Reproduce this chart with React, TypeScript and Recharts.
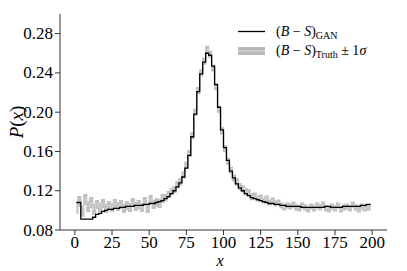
import React from 'react';
import { ComposedChart, Line, Area, XAxis, YAxis } from 'recharts';

// bin centres
const xBins = [
  1, 3, 5, 7, 9, 11, 13, 15, 17, 19, 21, 23, 25, 27, 29, 31, 33, 35, 37, 39,
  41, 43, 45, 47, 49, 51, 53, 55, 57, 59, 61, 63, 65, 67, 69, 71, 73, 75, 77, 79,
  81, 83, 85, 87, 89, 91, 93, 95, 97, 99, 101, 103, 105, 107, 109, 111, 113, 115, 117, 119,
  121, 123, 125, 127, 129, 131, 133, 135, 137, 139, 141, 143, 145, 147, 149, 151, 153, 155, 157, 159,
  161, 163, 165, 167, 169, 171, 173, 175, 177, 179, 181, 183, 185, 187, 189, 191, 193, 195, 197, 199,
];

// (B - S) truth
const truthVals = [
  0.102, 0.109, 0.099, 0.111, 0.104, 0.108, 0.101, 0.106, 0.103, 0.107,
  0.102, 0.105, 0.103, 0.107, 0.104, 0.106, 0.102, 0.105, 0.103, 0.108,
  0.104, 0.106, 0.103, 0.109, 0.102, 0.111, 0.106, 0.108, 0.107, 0.112,
  0.113, 0.116, 0.119, 0.121, 0.126, 0.129, 0.136, 0.146, 0.158, 0.176,
  0.200, 0.222, 0.240, 0.252, 0.264, 0.259, 0.245, 0.226, 0.203, 0.181,
  0.163, 0.150, 0.141, 0.133, 0.129, 0.124, 0.122, 0.119, 0.118, 0.114,
  0.115, 0.112, 0.113, 0.110, 0.112, 0.108, 0.110, 0.107, 0.108, 0.105,
  0.103, 0.105, 0.104, 0.106, 0.103, 0.102, 0.105, 0.103, 0.101, 0.104,
  0.102, 0.105, 0.103, 0.106, 0.102, 0.101, 0.104, 0.102, 0.105, 0.101,
  0.103, 0.104, 0.102, 0.106, 0.103, 0.101, 0.104, 0.102, 0.103, 0.103,
];

// 1 sigma uncertainty on truth
const truthSigma = [
  0.005, 0.005, 0.005, 0.005, 0.005, 0.005, 0.005, 0.004, 0.004, 0.004,
  0.004, 0.004, 0.004, 0.004, 0.004, 0.004, 0.004, 0.004, 0.004, 0.004,
  0.004, 0.004, 0.004, 0.004, 0.004, 0.004, 0.004, 0.004, 0.004, 0.004,
  0.003, 0.003, 0.003, 0.003, 0.003, 0.003, 0.003, 0.003, 0.003, 0.003,
  0.003, 0.003, 0.003, 0.003, 0.003, 0.003, 0.003, 0.003, 0.003, 0.003,
  0.003, 0.003, 0.003, 0.003, 0.003, 0.003, 0.003, 0.003, 0.003, 0.003,
  0.0025, 0.0025, 0.0025, 0.0025, 0.0025, 0.0025, 0.0025, 0.0025, 0.0025, 0.0025,
  0.0025, 0.0025, 0.0025, 0.0025, 0.0025, 0.0025, 0.0025, 0.0025, 0.0025, 0.0025,
  0.0025, 0.0025, 0.0025, 0.0025, 0.0025, 0.0025, 0.0025, 0.0025, 0.0025, 0.0025,
  0.0025, 0.0025, 0.0025, 0.0025, 0.0025, 0.0025, 0.0025, 0.0025, 0.0025, 0.0025,
];

// (B - S) GAN
const ganVals = [
  0.108, 0.108, 0.091, 0.091, 0.091, 0.091, 0.093, 0.096, 0.097, 0.099,
  0.100, 0.101, 0.101, 0.102, 0.102, 0.103, 0.103, 0.104, 0.104, 0.104,
  0.105, 0.105, 0.105, 0.106, 0.106, 0.107, 0.107, 0.108, 0.109, 0.110,
  0.112, 0.114, 0.117, 0.120, 0.124, 0.128, 0.134, 0.143, 0.156, 0.175,
  0.198, 0.221, 0.239, 0.251, 0.260, 0.258, 0.247, 0.228, 0.205, 0.182,
  0.164, 0.151, 0.140, 0.133, 0.127, 0.123, 0.120, 0.117, 0.115, 0.113,
  0.112, 0.111, 0.110, 0.109, 0.108, 0.107, 0.107, 0.106, 0.106, 0.105,
  0.105, 0.104, 0.104, 0.104, 0.104, 0.104, 0.103, 0.103, 0.103, 0.103,
  0.103, 0.103, 0.103, 0.103, 0.104, 0.104, 0.103, 0.103, 0.103, 0.103,
  0.104, 0.104, 0.104, 0.104, 0.104, 0.104, 0.105, 0.105, 0.106, 0.106,
];

const xTicks = [0, 25, 50, 75, 100, 125, 150, 175, 200];
const yTicks = [0.08, 0.12, 0.16, 0.2, 0.24, 0.28];

const data = xBins.map((x, i) => ({
  x,
  truth: truthVals[i],
  band: [truthVals[i] - truthSigma[i], truthVals[i] + truthSigma[i]],
  gan: ganVals[i],
}));

const FONT = 'Liberation Serif';
const AXIS = '#333';

const XTick = ({ x, y, payload }: any) => (
  <text x={x} y={y + 10} textAnchor="middle" fontFamily={FONT} fontSize={17} fill="#000">
    {payload.value}
  </text>
);

const YTick = ({ x, y, payload }: any) => (
  <text x={x} y={y + 5.5} textAnchor="end" fontFamily={FONT} fontSize={17} fill="#000">
    {payload.value.toFixed(2)}
  </text>
);

const YLabel = () => (
  <text x={16} y={122} transform="rotate(-90 16 122)" textAnchor="middle" dominantBaseline="central"
    fontFamily={FONT} fontSize={19} fill="#000">
    <tspan fontStyle="italic">P</tspan>(<tspan fontStyle="italic">x</tspan>)
  </text>
);

const XLabel = () => (
  <text x={220} y={266} textAnchor="middle"
    fontFamily={FONT} fontSize={16} fontStyle="italic" fill="#000">
    x
  </text>
);

const LegendBox = () => (
  <svg width={407} height={271} style={{ position: 'absolute', left: 0, top: 0, pointerEvents: 'none' }}>
    <line x1={238} x2={265} y1={31.5} y2={31.5} stroke="#000" strokeWidth={1.3} />
    <text x={276} y={36} fontFamily={FONT} fontSize={14} fill="#000">
      (<tspan fontStyle="italic">B</tspan> − <tspan fontStyle="italic">S</tspan>)
      <tspan fontSize={10} dy={3}>GAN</tspan>
    </text>
    <rect x={238} y={47} width={27} height={8} fill="#b8b8b8" />
    <line x1={238} x2={265} y1={51} y2={51} stroke="#cccccc" strokeWidth={2} />
    <text x={276} y={55} fontFamily={FONT} fontSize={14} fill="#000">
      (<tspan fontStyle="italic">B</tspan> − <tspan fontStyle="italic">S</tspan>)
      <tspan fontSize={10} dy={3}>Truth</tspan>
      <tspan dy={-3}> ± 1</tspan><tspan fontStyle="italic">σ</tspan>
    </text>
  </svg>
);

export default function App() {
  return (
    <div style={{ position: 'absolute', left: 0, top: 0, width: 407, height: 271, background: '#fff', fontFamily: FONT }}>
      <ComposedChart width={407} height={271} data={data} margin={{ top: 14, right: 20, bottom: 0, left: 0 }}>
        <XAxis
          dataKey="x"
          type="number"
          domain={[-10, 210]}
          ticks={xTicks}
          allowDataOverflow
          height={41}
          stroke={AXIS}
          tickSize={5}
          tickMargin={3}
          tick={<XTick />}
          label={() => <XLabel />}
        />
        <XAxis xAxisId="top" orientation="top" type="number" domain={[-10, 210]} height={0} tick={false} tickLine={false} stroke={AXIS} />
        <YAxis
          type="number"
          domain={[0.08, 0.3]}
          ticks={yTicks}
          allowDataOverflow
          width={60}
          stroke={AXIS}
          tickSize={5}
          tickMargin={2}
          tick={<YTick />}
          label={() => <YLabel />}
        />
        <YAxis yAxisId="right" orientation="right" type="number" domain={[0.08, 0.3]} width={0} tick={false} tickLine={false} stroke={AXIS} />
        <Area
          dataKey="band"
          type="step"
          stroke="#c0c0c0"
          strokeWidth={1.2}
          fill="#bdbdbd"
          fillOpacity={0.9}
          isAnimationActive={false}
        />
        <Line dataKey="truth" type="step" stroke="#cfcfcf" strokeWidth={1} dot={false} isAnimationActive={false} />
        <Line dataKey="gan" type="step" stroke="#000" strokeWidth={1.3} dot={false} isAnimationActive={false} />
      </ComposedChart>
      <LegendBox />
    </div>
  );
}
